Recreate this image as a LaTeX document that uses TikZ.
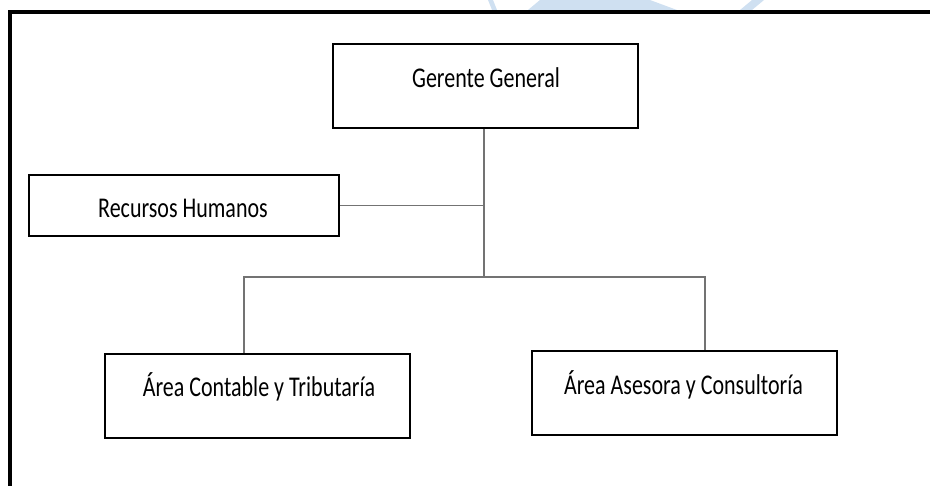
\documentclass[tikz,border=0pt]{standalone}
\usepackage{fontspec}
\setmainfont{Carlito}
\definecolor{marca}{RGB}{207,224,241}
\newcommand\tall[1]{\scalebox{1}[1.3]{#1}}
\begin{document}
\begin{tikzpicture}[x=1pt,y=-1pt,
    box/.style={draw,line width=1.8pt,inner sep=0pt},
    txt/.style={anchor=base,inner sep=0pt,font=\fontsize{22}{26}\selectfont},
    link/.style={draw=black!55,line width=1.4pt}]
  \useasboundingbox (0,0) rectangle (930,486);
  \fill[marca] (488,0) -- (493,0) -- (497,10) -- (492,10) -- cycle;
  \fill[marca] (540,0) -- (650,0) -- (677,10) -- (528,10) -- cycle;
  \fill[marca] (752,0) -- (764,0) -- (752,10) -- (740,10) -- cycle;
  \draw[line width=4pt] (10,486) -- (10,12) -- (930,12);
  \node[box,minimum width=305pt,minimum height=84pt] (gg) at (485.5,86) {};
  \node[box,minimum width=310pt,minimum height=61pt] (rh) at (184,205.5) {};
  \node[box,minimum width=305pt,minimum height=84pt] (ac) at (257.5,396) {};
  \node[box,minimum width=305pt,minimum height=84pt] (aa) at (684.5,393) {};
  \node[txt] (ggt) at (486,87.3) {\tall{Gerente General}};
  \node[txt] (rht) at (183,218) {\tall{Recursos Humanos}};
  \node[txt] (act) at (259,396.5) {\tall{Área Contable y Tributaría}};
  \node[txt] (aat) at (683.5,395) {\tall{Área Asesora y Consultoría}};
  \coordinate (mid) at (484,277);
  \coordinate (lft) at (244,277);
  \coordinate (rgt) at (705,277);
  \begin{scope}[link]
    \draw (gg.south -| mid) -- (mid);
    \draw (rh.east) -- (rh.east -| mid);
    \draw (ac.north -| lft) -- (lft) -- (rgt) -- (aa.north -| rgt);
  \end{scope}
\end{tikzpicture}
\end{document}
